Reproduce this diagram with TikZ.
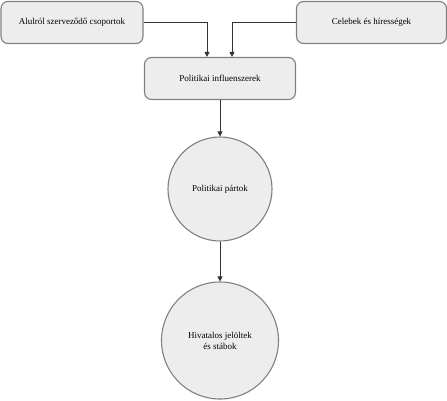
\documentclass[tikz,border=0pt]{standalone}
\usepackage{fontspec}
\setmainfont{Liberation Serif}
\usetikzlibrary{arrows.meta}
\begin{document}
\begin{tikzpicture}[x=1pt,y=-1pt,
  box/.style={draw=black!50,fill=black!7,line width=1.1pt,rounded corners=7pt,font=\fontsize{9}{11}\selectfont,align=center,inner sep=0pt},
  circ/.style={draw=black!50,fill=black!7,line width=1.1pt,circle,font=\fontsize{9}{11}\selectfont,align=center,inner sep=0pt},
  conn/.style={draw=black!80,line width=0.8pt,-{Triangle[length=5pt,width=5pt]}}]
\useasboundingbox (0,0) rectangle (447,400);
\node[box,minimum width=142pt,minimum height=42pt] (a) at (72,22.5) {Alulról szerveződő csoportok};
\node[box,minimum width=150pt,minimum height=42pt] (b) at (371.5,22.5) {Celebek és hírességek};
\node[box,minimum width=151pt,minimum height=42pt] (p) at (220,78.5) {Politikai influenszerek};
\node[circ,minimum size=104pt] (c1) at (220,189) {Politikai pártok};
\node[circ,minimum size=117pt] (c2) at (220,340.5) {Hivatalos jelöltek\\és stábok};
\draw[conn] (a.east) -| ([xshift=-13pt]p.north);
\draw[conn] (b.west) -| ([xshift=12pt]p.north);
\draw[conn] (p.south) -- (c1.north);
\draw[conn] (c1.south) -- (c2.north);
\end{tikzpicture}
\end{document}
